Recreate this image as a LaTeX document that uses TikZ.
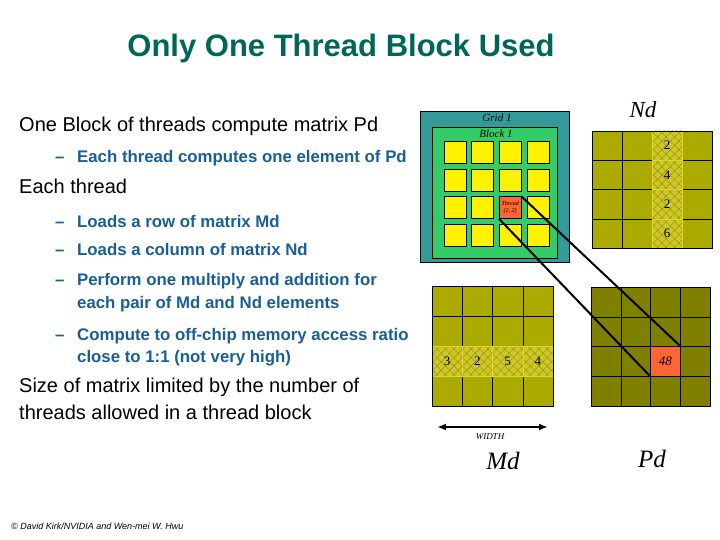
\documentclass[tikz,border=0pt]{standalone}
\usepackage{fontspec}
\setmainfont{Liberation Sans}
\newfontfamily\timesfont{Liberation Serif}
\usetikzlibrary{positioning,arrows.meta,patterns.meta}

\definecolor{titlegreen}{RGB}{0,102,85}
\definecolor{itemblue}{RGB}{25,95,150}
\definecolor{gridteal}{RGB}{51,153,153}
\definecolor{blockgreen}{RGB}{51,204,102}
\definecolor{threadred}{RGB}{255,102,51}
\definecolor{ndolive}{RGB}{170,170,0}
\definecolor{hatchfill}{RGB}{205,200,40}
\definecolor{hatchline}{RGB}{150,140,10}
\definecolor{pdolive}{RGB}{128,128,0}

\begin{document}
\begin{tikzpicture}[x=1pt, y=-1pt,
    main/.style={anchor=base west, inner sep=0pt, font=\fontsize{20}{24}\selectfont},
    item/.style={anchor=base west, inner sep=0pt, text=itemblue, font=\fontsize{16.8}{20}\selectfont\bfseries},
    tcell/.style={draw, fill=yellow, minimum size=22pt, inner sep=0pt},
    mcell/.style={draw, fill=ndolive, minimum width=30pt, minimum height=29.5pt, inner sep=0pt},
    hcell/.style={draw=yellow!60!ndolive, preaction={fill=hatchfill},
        preaction={pattern={Lines[angle=45,distance=6pt,line width=0.4pt]}, pattern color=hatchline},
        pattern={Lines[angle=-45,distance=6pt,line width=0.4pt]}, pattern color=hatchline,
        minimum width=30pt, minimum height=29.5pt, inner sep=0pt, font=\timesfont\fontsize{13}{13}\selectfont},
    pcell/.style={draw, fill=pdolive, minimum size=29.75pt, inner sep=0pt},
    label/.style={font=\timesfont\itshape\fontsize{25}{25}\selectfont, inner sep=0pt},
    small/.style={font=\timesfont\itshape\fontsize{11}{11}\selectfont, inner sep=0pt},
    arrow/.style={{Latex[length=9pt,width=7pt]}-{Latex[length=9pt,width=7pt]}, line width=2pt}
]
\useasboundingbox (0,0) rectangle (720,540);

% title and text
\node[anchor=base, inner sep=0pt, text=titlegreen, font=\fontsize{31}{34}\selectfont\bfseries] (title) at (341,57) {Only One Thread Block Used};

\node[main] (t1) at (19,132) {One Block of threads compute matrix Pd};
\node[item] (d1) at (55,163) {--};
\node[item] (t2) at (77,163) {Each thread computes one element of Pd};
\node[main] (t3) at (19,194) {Each thread};
\node[item] (d2) at (55,227) {--};
\node[item] (t4) at (77,227) {Loads a row of matrix Md};
\node[item] (d3) at (55,255) {--};
\node[item] (t5) at (77,255) {Loads a column of matrix Nd};
\node[item] (d4) at (55,285) {--};
\node[item] (t6) at (77,285) {Perform one multiply and addition for};
\node[item] (t7) at (77,308) {each pair of Md and Nd elements};
\node[item] (d5) at (55,340) {--};
\node[item] (t8) at (77,340) {Compute to off-chip memory access ratio};
\node[item] (t9) at (77,362) {close to 1:1 (not very high)};
\node[main] (t10) at (19,392) {Size of matrix limited by the number of};
\node[main] (t11) at (19,419) {threads allowed in a thread block};

% grid and block of threads
\node[draw, fill=gridteal, minimum width=149pt, minimum height=151pt, anchor=north west] (grid) at (420,111) {};
\node[draw, fill=blockgreen, minimum width=125pt, minimum height=131pt, anchor=north west] (block) at (432,127) {};
\node[small] (gridlbl) at (497,118) {Grid 1};
\node[small] (blocklbl) at (496,134) {Block 1};
\foreach \i in {0,...,3}
  \foreach \j in {0,...,3}
    \node[tcell] (th-\i-\j) at (455+27.6*\i, 152+27.8*\j) {};
\node[tcell, fill=threadred, align=center, font=\timesfont\itshape\fontsize{6}{6.5}\selectfont] (thread) at (th-2-2) {Thread\\(2, 2)};

% Nd
\foreach \i in {0,...,3}
  \foreach \j in {0,...,3}
    \node[mcell, minimum height=29.25pt] (nd-\i-\j) at (607+30*\i, 145.6+29.25*\j) {};
\foreach \v [count=\j from 0] in {2,4,2,6}
  \node[hcell, minimum height=29.25pt] (ndh-\j) at (nd-2-\j) {\v};
\draw (nd-0-0.north west) rectangle (nd-3-3.south east);
\node[label, font=\timesfont\itshape\fontsize{23}{23}\selectfont] (ndlbl) at (643,110) {Nd};

% Md
\foreach \i in {0,...,3}
  \foreach \j in {0,...,3}
    \node[mcell, minimum width=30.25pt, minimum height=30pt] (md-\i-\j) at (447.1+30.25*\i, 301+30*\j) {};
\foreach \v [count=\i from 0] in {3,2,5,4}
  \node[hcell, minimum width=30.25pt, minimum height=30pt] (mdh-\i) at (md-\i-2) {\v};
\draw (md-0-0.north west) rectangle (md-3-3.south east);
\coordinate (wl) at (437,427);
\coordinate (wr) at (548,427);
\draw[arrow] (wl) -- (wr);
\node[small, font=\timesfont\itshape\fontsize{9}{9}\selectfont] (widthlbl) at (490,437) {WIDTH};
\node[label] (mdlbl) at (503,461) {Md};

% Pd
\foreach \i in {0,...,3}
  \foreach \j in {0,...,3}
    \node[pcell] (pd-\i-\j) at (605.9+29.75*\i, 301.9+29.75*\j) {};
\node[pcell, fill=threadred, font=\timesfont\itshape\fontsize{13}{13}\selectfont] (pdel) at (pd-2-2) {48};
\node[label] (pdlbl) at (652,459) {Pd};

% thread to element
\draw[line width=2pt] (thread.north east) -- (pdel.north east);
\draw[line width=2pt] (thread.south west) -- (pdel.south west);

\node[anchor=base west, inner sep=0pt, font=\fontsize{9}{10}\selectfont\itshape] (copy) at (11,529) {© David Kirk/NVIDIA and Wen-mei W. Hwu};
\end{tikzpicture}
\end{document}
